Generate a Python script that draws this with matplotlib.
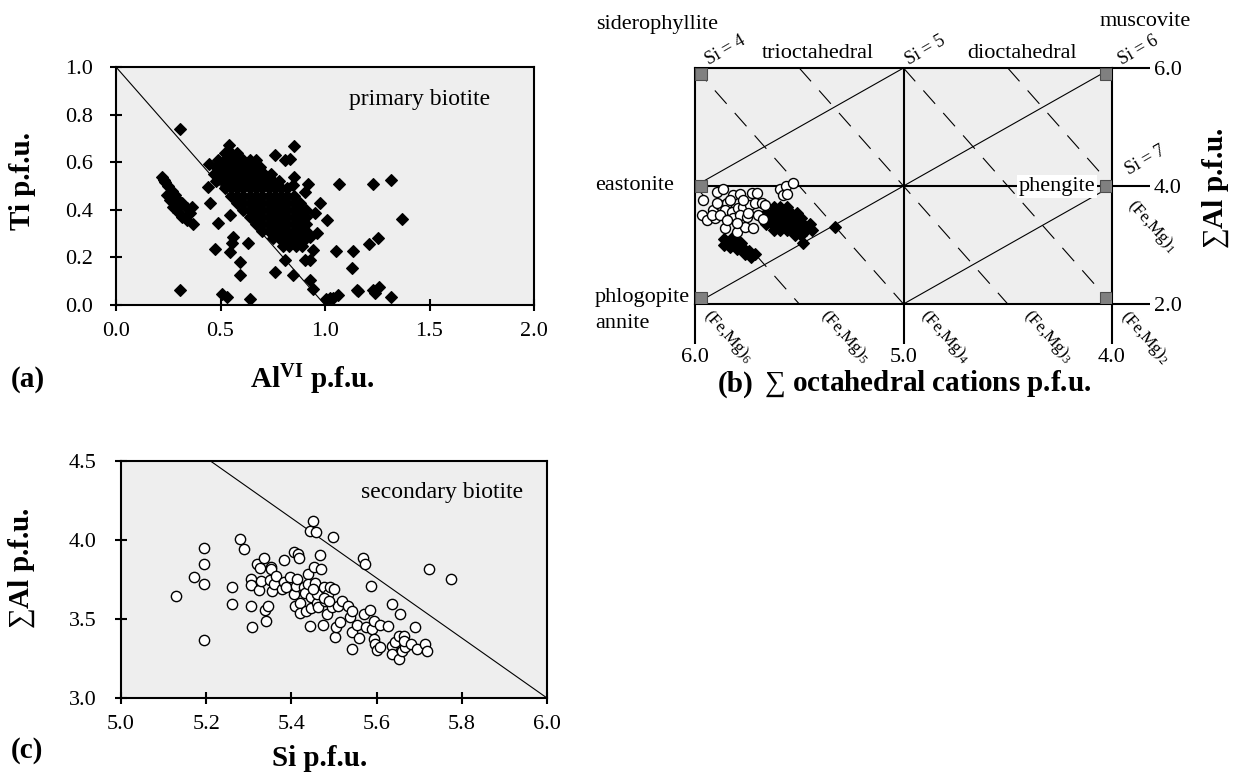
import matplotlib
matplotlib.use("Agg")
import matplotlib.pyplot as plt
from matplotlib.patches import Rectangle
from matplotlib.ticker import FormatStrFormatter

plt.rcParams['font.family'] = ['Liberation Serif', 'DejaVu Serif']
plt.rcParams['mathtext.fontset'] = 'custom'
plt.rcParams['mathtext.rm'] = 'Liberation Serif'
plt.rcParams['mathtext.it'] = 'Liberation Serif:italic'
plt.rcParams['mathtext.bf'] = 'Liberation Serif:bold'

# ---------------- data: panel (a) primary biotite, AlVI vs Ti ----------------
prim_alvi = [
    # isolated / scattered
    0.308, 0.542, 0.853, 0.761, 0.809, 0.833, 0.447, 1.067, 1.231, 1.314, 1.370, 0.976,
    1.008, 0.474, 0.545, 0.633, 0.593, 0.593, 0.761, 0.848, 0.809, 1.053, 1.136, 1.128,
    1.212, 1.252, 1.152, 1.232, 1.256, 1.314, 1.063, 1.040, 1.024, 1.005, 0.944, 0.928,
    0.308, 0.506, 0.530, 0.641, 0.450, 0.442, 0.490, 0.545, 0.561, 0.553, 0.888, 0.928,
    0.960, 0.952, 0.920, 0.904, 0.853, 0.848, 0.872, 0.896, 0.856, 0.928, 0.904, 0.944,
    1.160, 1.240,
    # low-AlVI trend
    0.222, 0.234, 0.250, 0.266, 0.282, 0.298, 0.242, 0.258, 0.274, 0.298, 0.314, 0.338,
    0.362, 0.370, 0.338, 0.314, 0.290, 0.354, 0.230, 0.262,
    # dense band
    0.52, 0.55, 0.58,
    0.49, 0.52, 0.55, 0.58, 0.61, 0.64, 0.67,
    0.48, 0.51, 0.54, 0.57, 0.60, 0.63, 0.66, 0.69,
    0.47, 0.50, 0.53, 0.56, 0.59, 0.62, 0.65, 0.68, 0.71, 0.74,
    0.48, 0.51, 0.54, 0.57, 0.60, 0.63, 0.66, 0.69, 0.72, 0.75, 0.78,
    0.52, 0.55, 0.58, 0.61, 0.64, 0.67, 0.70, 0.73, 0.76, 0.79, 0.82,
    0.55, 0.58, 0.61, 0.64, 0.67, 0.70, 0.73, 0.76, 0.79, 0.82, 0.85,
    0.58, 0.61, 0.64, 0.67, 0.70, 0.73, 0.76, 0.79, 0.82, 0.85, 0.88,
    0.61, 0.64, 0.67, 0.70, 0.73, 0.76, 0.79, 0.82, 0.85, 0.88, 0.91,
    0.64, 0.67, 0.70, 0.73, 0.76, 0.79, 0.82, 0.85, 0.88, 0.91,
    0.67, 0.70, 0.73, 0.76, 0.79, 0.82, 0.85, 0.88, 0.91,
    0.70, 0.73, 0.76, 0.79, 0.82, 0.85, 0.88, 0.91,
    0.75, 0.78, 0.81, 0.84, 0.87, 0.90,
    0.80, 0.83, 0.86, 0.89,
]
prim_ti = [
    0.741, 0.671, 0.669, 0.632, 0.608, 0.613, 0.594, 0.510, 0.510, 0.527, 0.361, 0.429,
    0.359, 0.234, 0.224, 0.262, 0.182, 0.126, 0.140, 0.126, 0.189, 0.227, 0.227, 0.154,
    0.256, 0.280, 0.063, 0.063, 0.077, 0.035, 0.042, 0.030, 0.028, 0.024, 0.066, 0.105,
    0.063, 0.045, 0.035, 0.024, 0.429, 0.497, 0.343, 0.378, 0.287, 0.262, 0.266, 0.287,
    0.301, 0.385, 0.510, 0.476, 0.538, 0.503, 0.315, 0.329, 0.280, 0.189, 0.189, 0.231,
    0.060, 0.050,
    0.536, 0.517, 0.499, 0.480, 0.462, 0.441, 0.462, 0.443, 0.413, 0.392, 0.371, 0.357,
    0.413, 0.340, 0.406, 0.427, 0.406, 0.385, 0.525, 0.470,
    0.64, 0.64, 0.64,
    0.61, 0.61, 0.61, 0.61, 0.61, 0.61, 0.61,
    0.58, 0.58, 0.58, 0.58, 0.58, 0.58, 0.58, 0.58,
    0.55, 0.55, 0.55, 0.55, 0.55, 0.55, 0.55, 0.55, 0.55, 0.55,
    0.52, 0.52, 0.52, 0.52, 0.52, 0.52, 0.52, 0.52, 0.52, 0.52, 0.52,
    0.49, 0.49, 0.49, 0.49, 0.49, 0.49, 0.49, 0.49, 0.49, 0.49, 0.49,
    0.46, 0.46, 0.46, 0.46, 0.46, 0.46, 0.46, 0.46, 0.46, 0.46, 0.46,
    0.43, 0.43, 0.43, 0.43, 0.43, 0.43, 0.43, 0.43, 0.43, 0.43, 0.43,
    0.40, 0.40, 0.40, 0.40, 0.40, 0.40, 0.40, 0.40, 0.40, 0.40, 0.40,
    0.37, 0.37, 0.37, 0.37, 0.37, 0.37, 0.37, 0.37, 0.37, 0.37,
    0.34, 0.34, 0.34, 0.34, 0.34, 0.34, 0.34, 0.34, 0.34,
    0.31, 0.31, 0.31, 0.31, 0.31, 0.31, 0.31, 0.31,
    0.28, 0.28, 0.28, 0.28, 0.28, 0.28,
    0.25, 0.25, 0.25, 0.25,
]
a_ref_x = [0.0, 1.0]
a_ref_y = [1.0, 0.0]
a_xticks = [0.0, 0.5, 1.0, 1.5, 2.0]
a_yticks = [0.0, 0.2, 0.4, 0.6, 0.8, 1.0]

# ---------------- data: panel (c) secondary biotite, Si vs sum Al ----------------
sec_si = [
    5.128, 5.172, 5.195, 5.195, 5.195, 5.195, 5.261, 5.261, 5.279, 5.289, 5.304, 5.304,
    5.304, 5.308, 5.319, 5.323, 5.326, 5.329, 5.336, 5.337, 5.341, 5.345, 5.350, 5.351,
    5.352, 5.355, 5.358, 5.365, 5.377, 5.382, 5.383, 5.387, 5.396, 5.406, 5.415, 5.419,
    5.406, 5.410, 5.408, 5.414, 5.421, 5.421, 5.430, 5.432, 5.434, 5.440, 5.440, 5.443,
    5.443, 5.445, 5.445, 5.451, 5.453, 5.455, 5.458, 5.459, 5.461, 5.463, 5.466, 5.470,
    5.474, 5.476, 5.480, 5.484, 5.487, 5.490, 5.495, 5.497, 5.501, 5.503, 5.505, 5.509,
    5.513, 5.518, 5.534, 5.537, 5.542, 5.542, 5.542, 5.555, 5.558, 5.568, 5.572, 5.570,
    5.576, 5.584, 5.587, 5.589, 5.593, 5.593, 5.597, 5.601, 5.608, 5.608, 5.627, 5.635,
    5.635, 5.637, 5.643, 5.652, 5.653, 5.656, 5.660, 5.664, 5.666, 5.664, 5.681, 5.690,
    5.694, 5.714, 5.719, 5.723, 5.775, 5.450, 5.476, 5.488,
]
sec_al = [
    3.643, 3.763, 3.952, 3.851, 3.723, 3.367, 3.704, 3.594, 4.009, 3.942, 3.754, 3.714,
    3.584, 3.447, 3.851, 3.685, 3.820, 3.742, 3.885, 3.556, 3.489, 3.584, 3.746, 3.832,
    3.815, 3.678, 3.721, 3.769, 3.689, 3.872, 3.734, 3.704, 3.767, 3.925, 3.914, 3.889,
    3.657, 3.710, 3.584, 3.756, 3.599, 3.541, 3.700, 3.664, 3.552, 3.784, 3.721, 4.058,
    3.453, 3.641, 3.567, 4.121, 3.832, 3.725, 4.051, 3.604, 3.657, 3.573, 3.904, 3.815,
    3.464, 3.700, 3.615, 3.531, 3.657, 3.704, 3.573, 4.020, 3.689, 3.384, 3.447, 3.584,
    3.478, 3.615, 3.584, 3.510, 3.548, 3.415, 3.310, 3.464, 3.377, 3.889, 3.851, 3.531,
    3.447, 3.558, 3.706, 3.436, 3.489, 3.373, 3.341, 3.303, 3.464, 3.320, 3.457, 3.594,
    3.331, 3.278, 3.352, 3.394, 3.247, 3.531, 3.299, 3.390, 3.320, 3.362, 3.341, 3.447,
    3.310, 3.341, 3.299, 3.815, 3.752, 3.689, 3.636, 3.615,
]
c_ref_x = [5.21, 6.0]
c_ref_y = [4.5, 3.0]
c_xticks = [5.0, 5.2, 5.4, 5.6, 5.8, 6.0]
c_yticks = [3.0, 3.5, 4.0, 4.5]

# ---------------- data: panel (b) octahedral cations vs sum Al ----------------
b_sec_oct = [
    5.960, 5.893, 5.867, 5.819, 5.784, 5.728, 5.704, 5.968, 5.944, 5.904, 5.912, 5.880,
    5.848, 5.856, 5.824, 5.792, 5.768, 5.736, 5.712, 5.680, 5.664, 5.816, 5.784, 5.752,
    5.744, 5.696, 5.672, 5.856, 5.800, 5.760, 5.723, 5.800, 5.592, 5.563, 5.529, 5.576,
    5.557, 5.768, 5.832, 5.896, 5.920, 5.880, 5.848,
]
b_sec_al = [
    3.763, 3.903, 3.944, 3.847, 3.864, 3.886, 3.886, 3.508, 3.424, 3.452, 3.593, 3.678,
    3.707, 3.593, 3.565, 3.622, 3.650, 3.678, 3.707, 3.707, 3.678, 3.452, 3.508, 3.480,
    3.537, 3.508, 3.435, 3.283, 3.226, 3.300, 3.283, 3.368, 3.944, 4.000, 4.056, 3.847,
    3.864, 3.763, 3.763, 3.707, 3.508, 3.508, 3.424,
]
b_prim_oct = [
    5.62, 5.59, 5.56,
    5.66, 5.63, 5.60, 5.57, 5.54, 5.51,
    5.67, 5.64, 5.61, 5.58, 5.55, 5.52, 5.49,
    5.66, 5.63, 5.60, 5.57, 5.54, 5.51, 5.48, 5.45,
    5.62, 5.59, 5.56, 5.53, 5.50, 5.47,
    5.52, 5.49,
    5.86, 5.83, 5.80, 5.83, 5.80, 5.77, 5.74, 5.71, 5.76, 5.73, 5.81, 5.78, 5.86, 5.82,
    5.48, 5.33, 5.44,
]
b_prim_al = [
    3.65, 3.65, 3.65,
    3.55, 3.55, 3.55, 3.55, 3.55, 3.55,
    3.45, 3.45, 3.45, 3.45, 3.45, 3.45, 3.45,
    3.35, 3.35, 3.35, 3.35, 3.35, 3.35, 3.35, 3.35,
    3.25, 3.25, 3.25, 3.25, 3.25, 3.25,
    3.17, 3.17,
    3.10, 3.05, 3.00, 2.97, 2.93, 2.95, 2.90, 2.85, 2.85, 2.80, 3.08, 3.03, 3.00, 3.14,
    3.03, 3.30, 3.25,
]
# diagram construction lines (oct, Al) end points
si_lines = [((6.0, 4.0), (5.0, 6.0)), ((6.0, 2.0), (4.0, 6.0)), ((5.0, 2.0), (4.0, 4.0))]
femg_lines = [((6.0, 4.0), (5.5, 2.0)), ((6.0, 6.0), (5.0, 2.0)), ((5.5, 6.0), (4.5, 2.0)),
              ((5.0, 6.0), (4.0, 2.0)), ((4.5, 6.0), (4.0, 4.0))]
b_vlines = [5.0]
b_hlines = [4.0]
end_oct = [6.0, 6.0, 6.0, 4.0, 4.0, 4.0]
end_al = [6.0, 4.0, 2.0, 6.0, 4.0, 2.0]
b_xticks = [6.0, 5.0, 4.0]
b_yticks = [2.0, 4.0, 6.0]

# ---------------- figure ----------------
W, H = 1242, 775
fig = plt.figure(figsize=(W / 100, H / 100), dpi=100)
BG = '#eeeeee'
FS_TICK = 16
FS_LAB = 21
FS_TXT = 16
FS_PANEL_TXT = 17


def ax_px(l, t, r, b):
    return fig.add_axes([l / W, 1 - b / H, (r - l) / W, (b - t) / H])


def ftext(x, y, s, **kw):
    return fig.text(x / W, 1 - y / H, s, **kw)


def style_frame(ax):
    ax.set_facecolor(BG)
    for s in ax.spines.values():
        s.set_linewidth(1.5)


# ---- panel (a)
axa = ax_px(116, 67, 534, 305)
style_frame(axa)
axa.set_xlim(0, 2)
axa.set_ylim(0, 1)
axa.plot(a_ref_x, a_ref_y, color='black', lw=0.8)
axa.plot(prim_alvi, prim_ti, 'D', ms=6.4, mfc='black', mec='black', mew=0.8,
         clip_on=False, zorder=3)
axa.set_xticks(a_xticks)
axa.set_yticks(a_yticks)
axa.xaxis.set_major_formatter(FormatStrFormatter('%.1f'))
axa.yaxis.set_major_formatter(FormatStrFormatter('%.1f'))
axa.tick_params(axis='both', direction='inout', length=9, width=1.5, labelsize=FS_TICK)
axa.tick_params(axis='x', pad=8)
axa.tick_params(axis='y', pad=12)
ftext(420, 99, 'primary biotite', fontsize=FS_PANEL_TXT, ha='center', va='center')
ftext(22, 181, 'Ti p.f.u.', rotation=90, fontsize=FS_LAB, fontweight='bold',
      ha='center', va='center')
ftext(312, 380, r'Al$^{\mathbf{VI}}$ p.f.u.', fontsize=FS_LAB, fontweight='bold',
      ha='center', va='center')
ftext(11, 380, '(a)', fontsize=FS_LAB, fontweight='bold', ha='left', va='center')

# ---- panel (c)
axc = ax_px(121, 461, 547, 698)
style_frame(axc)
axc.set_xlim(5.0, 6.0)
axc.set_ylim(3.0, 4.5)
axc.plot(c_ref_x, c_ref_y, color='black', lw=0.8)
axc.plot(sec_si, sec_al, 'o', ms=7.4, mfc='white', mec='black', mew=1.0,
         clip_on=False, zorder=3)
axc.set_xticks(c_xticks)
axc.set_yticks(c_yticks)
axc.xaxis.set_major_formatter(FormatStrFormatter('%.1f'))
axc.yaxis.set_major_formatter(FormatStrFormatter('%.1f'))
axc.tick_params(axis='both', direction='inout', length=9, width=1.5, labelsize=FS_TICK)
axc.tick_params(axis='x', pad=8)
axc.tick_params(axis='y', pad=13)
ftext(442, 492, 'secondary biotite', fontsize=FS_PANEL_TXT, ha='center', va='center')
ftext(22, 568, r'$\sum$Al p.f.u.', rotation=90, fontsize=FS_LAB, fontweight='bold',
      ha='center', va='center')
ftext(320, 759, 'Si p.f.u.', fontsize=FS_LAB, fontweight='bold', ha='center', va='center')
ftext(11, 750, '(c)', fontsize=FS_LAB, fontweight='bold', ha='left', va='center')

# ---- panel (b)
axb = ax_px(695, 68, 1112, 304)
style_frame(axb)
axb.set_xlim(6.0, 4.0)
axb.set_ylim(2.0, 6.0)
for v in b_vlines:
    axb.axvline(v, color='black', lw=1.5, zorder=2)
for h in b_hlines:
    axb.axhline(h, color='black', lw=1.5, zorder=2)
for (p0, p1) in si_lines:
    axb.plot([p0[0], p1[0]], [p0[1], p1[1]], color='black', lw=0.8, zorder=2)
for (p0, p1) in femg_lines:
    axb.plot([p0[0], p1[0]], [p0[1], p1[1]], color='black', lw=0.8,
             linestyle=(0, (16, 11)), zorder=2)

# end-member squares placed inside the frame at the corners / mid points
SQ = 12
inv = axb.transData.inverted()
for o, a in zip(end_oct, end_al):
    xd, yd = axb.transData.transform((o, a))
    x0 = xd if o == 6.0 else xd - SQ
    if a == 6.0:
        y0 = yd - SQ
    elif a == 2.0:
        y0 = yd
    else:
        y0 = yd - SQ / 2
    (ox0, oy0) = inv.transform((x0, y0))
    (ox1, oy1) = inv.transform((x0 + SQ, y0 + SQ))
    axb.add_patch(Rectangle((ox0, oy0), ox1 - ox0, oy1 - oy0, facecolor='#808080',
                            edgecolor='#4d4d4d', lw=0.8, zorder=4))

axb.plot(b_prim_oct, b_prim_al, 'D', ms=5.8, mfc='black', mec='black', mew=0.8, zorder=5)
axb.plot(b_sec_oct, b_sec_al, 'o', ms=7.2, mfc='white', mec='black', mew=1.0, zorder=6)

axb.set_xticks(b_xticks)
axb.set_yticks(b_yticks)
axb.xaxis.set_major_formatter(FormatStrFormatter('%.1f'))
axb.yaxis.set_major_formatter(FormatStrFormatter('%.1f'))
axb.yaxis.tick_right()
axb.tick_params(axis='x', direction='out', length=29, width=1.5, labelsize=FS_TICK, pad=3)
axb.tick_params(axis='y', direction='out', length=27, width=1.5, labelsize=FS_TICK, pad=3,
                left=False, right=True)

ftext(1057, 186, 'phengite', fontsize=FS_TXT, ha='center', va='center', zorder=7,
      bbox=dict(facecolor='white', edgecolor='none', pad=1.5))
ftext(596, 25, 'siderophyllite', fontsize=FS_TXT, ha='left', va='center')
ftext(1100, 22, 'muscovite', fontsize=FS_TXT, ha='left', va='center')
ftext(595, 186, 'eastonite', fontsize=FS_TXT, ha='left', va='center')
ftext(595, 297, 'phlogopite', fontsize=FS_TXT, ha='left', va='center')
ftext(595, 323, 'annite', fontsize=FS_TXT, ha='left', va='center')
ftext(818, 53, 'trioctahedral', fontsize=FS_TXT, ha='center', va='center')
ftext(1022, 53, 'dioctahedral', fontsize=FS_TXT, ha='center', va='center')
for (sx, sy, s) in [(725, 50, 'Si = 4'), (925, 50, 'Si = 5'), (1138, 50, 'Si = 6'),
                    (1145, 160, 'Si = 7')]:
    ftext(sx, sy, s, fontsize=13, rotation=30, ha='center', va='center',
          rotation_mode='anchor')
for (fx, fy, n) in [(728, 337, 6), (845, 337, 5), (945, 337, 4), (1048, 337, 3),
                    (1145, 337, 2), (1152, 226, 1)]:
    ftext(fx, fy, r'(Fe,Mg)$_{%d}$' % n, fontsize=12.5, rotation=-48, ha='center',
          va='center', rotation_mode='anchor')
ftext(928, 384, r'$\sum$ octahedral cations p.f.u.', fontsize=FS_LAB, fontweight='bold',
      ha='center', va='center')
ftext(718, 384, '(b)', fontsize=FS_LAB, fontweight='bold', ha='left', va='center')
ftext(1216, 188, r'$\sum$Al p.f.u.', rotation=90, fontsize=FS_LAB, fontweight='bold',
      ha='center', va='center')

fig.savefig('out.png', dpi=100)
